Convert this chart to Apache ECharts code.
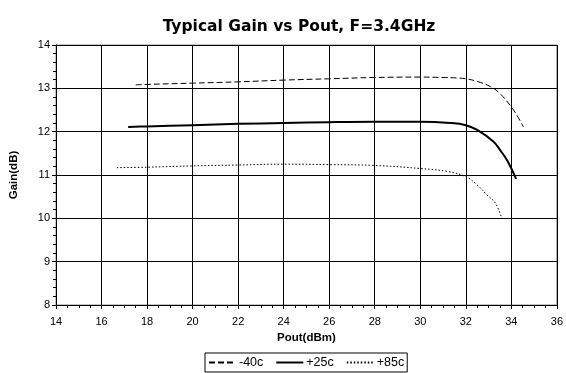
<!DOCTYPE html>
<html>
<head>
<meta charset="utf-8">
<script src="https://cdn.jsdelivr.net/npm/echarts@6/dist/echarts.min.js"></script>
<style>
  html, body { margin: 0; padding: 0; background: #fff; }
  #chart { width: 566px; height: 373px; }
</style>
</head>
<body>
<div id="chart"></div>
<script>
// Gain curves at three temperatures: [Pout dBm, Gain dB]
const seriesNames = ['-40c', '+25c', '+85c'];

const gainCold = [
  [17.5, 13.08], [18, 13.09], [20, 13.12], [22, 13.15], [24, 13.19], [26, 13.22],
  [28, 13.25], [30, 13.26], [31, 13.25], [31.6, 13.24], [32, 13.22], [32.5, 13.16],
  [33.08, 13.04], [33.5, 12.88], [34, 12.57], [34.3, 12.33], [34.53, 12.11]
];

const gainRoom = [
  [17.17, 12.11], [18, 12.12], [20, 12.15], [22, 12.18], [24, 12.2], [26, 12.22],
  [28, 12.23], [30, 12.23], [31.33, 12.2], [32, 12.15], [32.5, 12.04], [33.22, 11.77],
  [33.5, 11.58], [33.8, 11.35], [34.21, 10.91]
];

const gainHot = [
  [16.67, 11.17], [18, 11.18], [20, 11.21], [22, 11.23], [24, 11.25], [26, 11.24],
  [28, 11.22], [30, 11.15], [31.2, 11.08], [32, 10.96], [32.5, 10.77], [32.93, 10.54],
  [33.3, 10.35], [33.58, 10.0]
];

const xTicks = { min: 14, max: 36, step: 2 };
const yTicks = { min: 8, max: 14, step: 1 };

const font = 'Liberation Sans, Arial, sans-serif';
const chart = echarts.init(document.getElementById('chart'), null, { renderer: 'canvas' });

function curve(name, data, width, type) {
  return {
    name: name, type: 'line', data: data,
    showSymbol: false, symbol: 'none', smooth: 0.4,
    lineStyle: { color: '#000', width: width, type: type },
    itemStyle: { color: '#000' }
  };
}

chart.setOption({
  animation: false,
  backgroundColor: '#fff',
  title: {
    text: 'Typical Gain vs Pout, F=3.4GHz',
    left: 294, top: 14, textAlign: 'center',
    textStyle: { fontFamily: 'DejaVu Sans, sans-serif', fontSize: 15.5, fontWeight: 'bold', color: '#000' }
  },
  grid: {
    left: 56, right: 6, top: 45, bottom: 68,
    show: true, borderColor: '#888', borderWidth: 1
  },
  legend: {
    left: 205, top: 353,
    padding: [3, 3, 3, 3],
    borderColor: '#000', borderWidth: 1,
    itemWidth: 27, itemHeight: 12, itemGap: 12,
    itemStyle: { opacity: 0 },
    textStyle: { fontFamily: font, fontSize: 12.5, color: '#000', padding: [0, 0, 0, -2] },
    data: seriesNames
  },
  xAxis: {
    type: 'value',
    min: xTicks.min, max: xTicks.max, interval: xTicks.step,
    name: 'Pout(dBm)', nameLocation: 'middle', nameGap: 26,
    nameTextStyle: { fontFamily: font, fontSize: 11.5, fontWeight: 'bold', color: '#000' },
    axisLine: { lineStyle: { color: '#000', width: 1 } },
    axisTick: { show: true, inside: false, length: 4, lineStyle: { color: '#000' } },
    minorTick: { show: true, splitNumber: 4, length: 3, lineStyle: { color: '#000' } },
    axisLabel: { fontFamily: font, fontSize: 11, color: '#000', margin: 11 },
    splitLine: { show: true, lineStyle: { color: '#000', width: 1 } }
  },
  yAxis: {
    type: 'value',
    min: yTicks.min, max: yTicks.max, interval: yTicks.step,
    name: 'Gain(dB)', nameLocation: 'middle', nameGap: 36, nameRotate: 90,
    nameTextStyle: { fontFamily: font, fontSize: 11.5, fontWeight: 'bold', color: '#000' },
    axisLine: { show: true, lineStyle: { color: '#000', width: 1 } },
    axisTick: { show: true, inside: false, length: 4, lineStyle: { color: '#000' } },
    minorTick: { show: true, splitNumber: 5, length: 3, lineStyle: { color: '#000' } },
    axisLabel: { fontFamily: font, fontSize: 11, color: '#000', margin: 6 },
    splitLine: { show: true, lineStyle: { color: '#000', width: 1 } }
  },
  series: [
    curve(seriesNames[0], gainCold, 1, [6, 3]),
    curve(seriesNames[1], gainRoom, 2, 'solid'),
    curve(seriesNames[2], gainHot, 1, [1.5, 2])
  ]
});
</script>
</body>
</html>
